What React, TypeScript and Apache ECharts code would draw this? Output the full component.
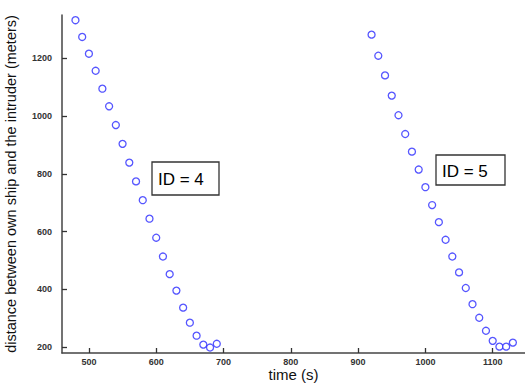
import React, { useEffect, useRef } from "react";
import * as echarts from "echarts";

const times4 = [480, 490, 500, 510, 520, 530, 540, 550, 560, 570, 580, 590, 600, 610, 620, 630, 640, 650, 660, 670, 680, 690];
const dist4 = [1332, 1274, 1216, 1157, 1095, 1034, 969, 904, 839, 774, 709, 645, 579, 514, 453, 396, 337, 285, 240, 209, 199, 212];
const times5 = [920, 930, 940, 950, 960, 970, 980, 990, 1000, 1010, 1020, 1030, 1040, 1050, 1060, 1070, 1080, 1090, 1100, 1110, 1120, 1130];
const dist5 = [1282, 1209, 1141, 1071, 1003, 938, 877, 815, 754, 692, 633, 572, 514, 459, 405, 349, 302, 257, 222, 202, 202, 216];
const xTicks = [500, 600, 700, 800, 900, 1000, 1100];
const yTicks = [200, 400, 600, 800, 1000, 1200];
const labels = ["ID = 4", "ID = 5"];

const FONT = "Liberation Sans, Arial, sans-serif";

export default function App() {
  const ref = useRef<HTMLDivElement>(null);
  useEffect(() => {
    if (!ref.current) return;
    const chart = echarts.init(ref.current, null, { renderer: "svg" });
    const axisLine = { show: true, onZero: false, lineStyle: { color: "#444", width: 1.5 } };
    const tick = (vals: number[]) => ({
      show: true,
      inside: true,
      length: 5,
      customValues: vals,
      lineStyle: { color: "#333", width: 1.3 },
    });
    const lbl = (vals: number[], margin: number) => ({
      show: true,
      customValues: vals,
      formatter: (v: number) => String(v),
      fontFamily: FONT,
      fontSize: 9,
      fontWeight: "bold",
      color: "#333",
      margin,
    });
    const box = (x: number, y: number, w: number, h: number, text: string) => ({
      type: "group",
      x,
      y,
      children: [
        { type: "rect", shape: { x: 0, y: 0, width: w, height: h }, style: { fill: "#fff", stroke: "#333", lineWidth: 1.3 } },
        { type: "text", x: 6, y: h / 2 + 1, style: { text, fontFamily: FONT, fontSize: 17, fill: "#000", verticalAlign: "middle" } },
      ],
    });
    chart.setOption({
      animation: false,
      backgroundColor: "#fff",
      grid: { left: 62, right: 0, top: 15, bottom: 32, containLabel: false, outerBoundsMode: "none" },
      xAxis: {
        type: "value",
        min: 460,
        max: 1148,
        name: "time (s)",
        nameLocation: "middle",
        nameGap: 14,
        nameMoveOverlap: false,
        nameTextStyle: { fontFamily: FONT, fontSize: 15, color: "#111", lineHeight: 15, verticalAlign: "top" },
        axisLine,
        axisTick: tick(xTicks),
        axisLabel: lbl(xTicks, 4),
        splitLine: { show: false },
      },
      yAxis: {
        type: "value",
        min: 180,
        max: 1350,
        name: "distance between own ship and the intruder (meters)",
        nameLocation: "middle",
        nameGap: 44,
        nameMoveOverlap: false,
        nameTextStyle: { fontFamily: FONT, fontSize: 14.5, color: "#111" },
        axisLine,
        axisTick: tick(yTicks),
        axisLabel: lbl(yTicks, 10),
        splitLine: { show: false },
      },
      series: [
        {
          type: "scatter",
          data: times4.map((t, i) => [t, dist4[i]]),
          symbol: "circle",
          symbolSize: 7,
          itemStyle: { color: "#fff", borderColor: "#2a2aff", borderWidth: 1.3 },
        },
        {
          type: "scatter",
          data: times5.map((t, i) => [t, dist5[i]]),
          symbol: "circle",
          symbolSize: 7,
          itemStyle: { color: "#fff", borderColor: "#2a2aff", borderWidth: 1.3 },
        },
      ],
      graphic: [box(152, 162, 67, 33, labels[0]), box(436, 155, 69, 30, labels[1])],
    });
    return () => chart.dispose();
  }, []);
  return <div ref={ref} style={{ width: 525, height: 385, position: "absolute", left: 0, top: 0 }} />;
}
